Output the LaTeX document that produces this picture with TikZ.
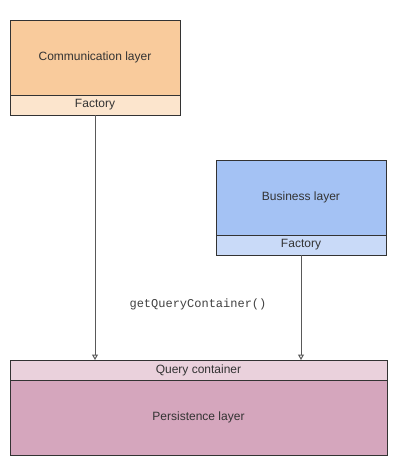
\documentclass[tikz,border=0pt]{standalone}
\usepackage{fontspec}
\setmainfont{Liberation Sans}
\setmonofont{Liberation Mono}
\usetikzlibrary{arrows.meta,positioning}
\definecolor{commc}{HTML}{F9CB9C}
\definecolor{commf}{HTML}{FCE5CD}
\definecolor{busc}{HTML}{A4C2F4}
\definecolor{busf}{HTML}{C9DAF8}
\definecolor{persc}{HTML}{D5A6BD}
\definecolor{persf}{HTML}{EAD1DC}
\definecolor{edge}{HTML}{333333}

\begin{document}
\begin{tikzpicture}[x=1pt, y=-1pt, every node/.style={font=\fontsize{12}{14}\selectfont, text=black!80, draw=edge, line width=0.8pt, inner sep=0pt, outer sep=0pt, anchor=north west}, >={Triangle[open, length=5.5pt, width=6pt]}]
	\useasboundingbox (0,0) rectangle (410,475);
	\node[fill=commc, minimum width=170pt, minimum height=75pt] (comm) at (10,20) {Communication layer};
	\node[fill=commf, minimum width=170pt, minimum height=20pt, below=0pt of comm] (commfac) {Factory};
	\node[fill=busc, minimum width=170pt, minimum height=75pt] (bus) at (216,160) {Business layer};
	\node[fill=busf, minimum width=170pt, minimum height=20pt, below=0pt of bus] (busfac) {Factory};
	\node[fill=persf, minimum width=377pt, minimum height=20pt] (query) at (10,360) {Query container};
	\node[fill=persc, minimum width=377pt, minimum height=75pt, below=0pt of query] (pers) {Persistence layer};
	\draw[->, black!65, line width=1pt] (commfac.south) -- (commfac.south |- query.north);
	\draw[->, black!65, line width=1pt] (busfac.south) -- (busfac.south |- query.north);
	\node[draw=none, anchor=center, text=black!75, font=\ttfamily\fontsize{12}{14}\selectfont] (call) at (198,304) {getQueryContainer()};
\end{tikzpicture}
\end{document}
